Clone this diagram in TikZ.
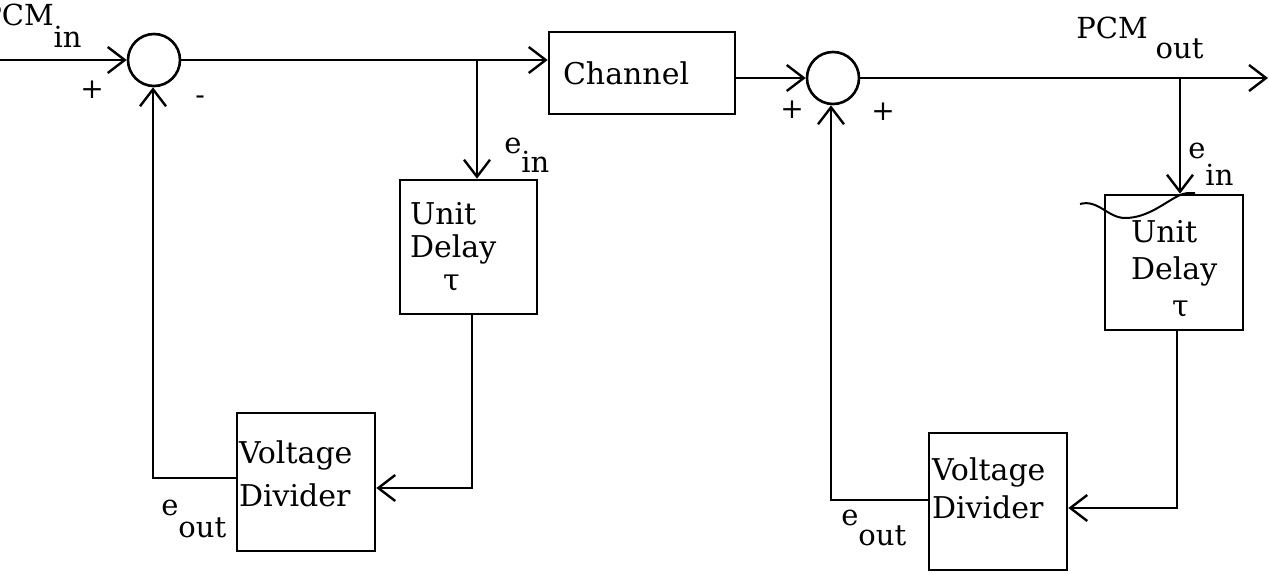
\documentclass[tikz,border=0pt]{standalone}
\usepackage{fontspec}
\setmainfont{DejaVu Serif}
\usetikzlibrary{arrows.meta,calc}
\begin{document}
\begin{tikzpicture}[x=1pt,y=-1pt,
  line width=2.6pt,
  arr/.style={-{Straight Barb[length=17pt,width=26pt,line width=2.4pt]}},
  blk/.style={draw, rectangle, inner sep=0pt, align=left},
  sumnode/.style={draw, circle, minimum size=52pt, inner sep=0pt},
  lbl/.style={font=\fontsize{29}{30}\selectfont, inner sep=0pt, anchor=base west},
  sgn/.style={font=\fontsize{28}{28}\selectfont, inner sep=0pt}]
\useasboundingbox (0,0) rectangle (1269,573);
\clip (0,0) rectangle (1269,573);

% summing junctions
\node[sumnode] (c1) at (154,60) {};
\node[sumnode] (c2) at (833,78) {};

% blocks
\node[blk, font=\fontsize{30}{33}\selectfont, text width=158pt, inner xsep=14pt,
      minimum height=82pt] (ch) at (642,73) {Channel};
\node[blk, font=\fontsize{30}{33}\selectfont, text width=117pt, inner xsep=10pt,
      minimum height=134pt] (ud1) at (468.5,247) {Unit\\Delay\\\hspace*{33pt}τ};
\node[blk, font=\fontsize{30}{37}\selectfont, text width=86pt, inner xsep=26pt,
      text height=36pt, minimum height=135pt] (ud2) at (1174,262.5) {Unit\\Delay\\\hspace*{41pt}τ};
\node[blk, font=\fontsize{30}{43}\selectfont, text width=134pt, inner xsep=2pt,
      text depth=59pt, minimum height=138pt] (vd1) at (306,482) {Voltage\\Divider};
\node[blk, font=\fontsize{30}{38}\selectfont, text width=132pt, inner xsep=3pt,
      text depth=64pt, minimum height=137pt] (vd2) at (998,501.5) {Voltage\\Divider};

% scribble over second unit delay
\draw[line width=2pt] (1080,204) .. controls (1098,199) and (1108,218) .. (1125,218)
  .. controls (1148,218) and (1165,202) .. (1180,195) .. controls (1186,193) .. (1195,193);

% labels
\node[lbl] (pcmin) at (-19,25) {PCM\raisebox{-22pt}{in}};
\node[lbl] (ein1) at (503,153) {e\raisebox{-19pt}{in}};
\node[lbl] (eout1) at (160,515) {e\raisebox{-22pt}{out}};
\node[lbl] (pcmout) at (1075,38) {PCM\hspace{8pt}\raisebox{-20pt}{out}};
\node[lbl] (ein2) at (1187,158) {e\raisebox{-27pt}{in}};
\node[lbl] (eout2) at (840,525) {e\raisebox{-20pt}{out}};

% signs
\node[sgn] (s1) at (92,90) {+};
\node[sgn] (s2) at (200,100) {-};
\node[sgn] (s3) at (792,110) {+};
\node[sgn] (s4) at (883,112) {+};

% coordinates for connector corners
\coordinate (inp) at (0,60);
\coordinate (b1) at (477,60);
\coordinate (d1) at (472,488);
\coordinate (f1) at (153,478);
\coordinate (outp) at (1268,78);
\coordinate (b2) at (1180,78);
\coordinate (d2) at (1177,508);
\coordinate (f2) at (831,500);

% first loop
\draw[arr] (inp) -- (c1.west);
\draw[arr] (c1.east) -- (c1.east -| ch.west);
\draw[arr] (b1) -- (b1 |- ud1.north);
\draw[arr] (ud1.south -| d1) -- (d1) -- (d1 -| vd1.east);
\draw[arr] (f1 -| vd1.west) -- (f1) -- (f1 |- c1.south);

% second loop
\draw[arr] (ch.east |- c2.west) -- (c2.west);
\draw[arr] (c2.east) -- (outp);
\draw[arr] (b2) -- (b2 |- ud2.north);
\draw[arr] (ud2.south -| d2) -- (d2) -- (d2 -| vd2.east);
\draw[arr] (f2 -| vd2.west) -- (f2) -- (f2 |- c2.south);
\end{tikzpicture}
\end{document}
